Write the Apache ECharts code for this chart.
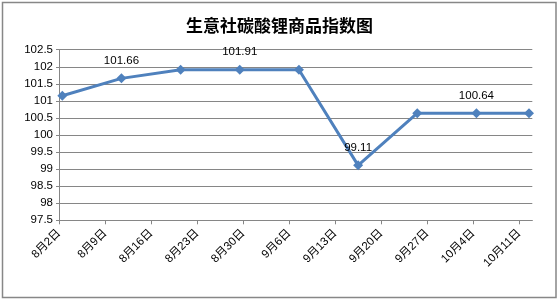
<!DOCTYPE html>
<html><head><meta charset="utf-8">
<script src="https://cdn.jsdelivr.net/npm/echarts@6/dist/echarts.min.js"></script>
<style>html,body{margin:0;padding:0;background:#fff}#c{width:559px;height:300px}</style>
</head><body><div id="c"></div>
<script>
// Data
const title = '生意社碳酸锂商品指数图';
const pointDates = ['2024-08-02','2024-08-11','2024-08-20','2024-08-29','2024-09-07','2024-09-16','2024-09-25','2024-10-04','2024-10-12'];
const indexValues = [101.15, 101.66, 101.91, 101.91, 101.91, 99.11, 100.64, 100.64, 100.64];
const labelledPoints = [1, 3, 5, 7];
const tickDates = ['2024-08-02','2024-08-09','2024-08-16','2024-08-23','2024-08-30','2024-09-06','2024-09-13','2024-09-20','2024-09-27','2024-10-04','2024-10-11'];
const axisStart = '2024-08-02';
const axisEnd = '2024-10-13';
const yMin = 97.5, yMax = 102.5, yStep = 0.5;

const DAY = 86400000;
const t0 = Date.parse(axisStart);
const dayOf = d => (Date.parse(d) - t0) / DAY;
const fmt = d => { const dt = new Date(t0 + d * DAY); return (dt.getUTCMonth() + 1) + '月' + dt.getUTCDate() + '日'; };
const tickVals = tickDates.map(dayOf);
const seriesData = pointDates.map((d, i) => ({
  value: [dayOf(d) + 0.5, indexValues[i]],
  label: { show: labelledPoints.includes(i) }
}));

const font = '"Liberation Sans","Noto Sans CJK SC",sans-serif';
const chart = echarts.init(document.getElementById('c'), null, { renderer: 'canvas' });
chart.setOption({
  animation: false,
  backgroundColor: '#fff',
  title: {
    text: title, left: 'center', top: 12,
    textStyle: { fontSize: 17, fontWeight: 'bold', color: '#000', fontFamily: '"Noto Sans CJK SC",sans-serif' }
  },
  graphic: [{
    type: 'rect', shape: { x: 2.5, y: 2.5, width: 553.5, height: 295 },
    style: { fill: 'none', stroke: '#878787', lineWidth: 1.5 }, silent: true
  }],
  grid: { left: 59, top: 49.7, right: 26.7, bottom: 79.7, containLabel: false },
  xAxis: {
    type: 'value', min: 0, max: dayOf(axisEnd),
    axisLine: { show: true, lineStyle: { color: '#868686', width: 1 } },
    axisTick: { show: true, length: 4, lineStyle: { color: '#868686' }, customValues: tickVals },
    axisLabel: {
      customValues: tickVals, rotate: 45, formatter: v => fmt(v),
      fontSize: 11.5, color: '#000', fontFamily: font, margin: 11
    },
    splitLine: { show: false }
  },
  yAxis: {
    type: 'value', min: yMin, max: yMax, interval: yStep,
    axisLine: { show: true, lineStyle: { color: '#868686', width: 1 } },
    axisTick: { show: true, length: 3, lineStyle: { color: '#868686' } },
    axisLabel: { fontSize: 11.5, color: '#000', fontFamily: font, margin: 6 },
    splitLine: { show: true, lineStyle: { color: '#868686', width: 1 } }
  },
  series: [{
    type: 'line', data: seriesData,
    symbol: 'diamond', symbolSize: 10,
    lineStyle: { color: '#4F81BD', width: 3 },
    itemStyle: { color: '#4F81BD' },
    label: { position: 'top', distance: 7, fontSize: 11.5, color: '#000', fontFamily: font, formatter: p => p.value[1].toFixed(2) }
  }]
});
</script></body></html>
